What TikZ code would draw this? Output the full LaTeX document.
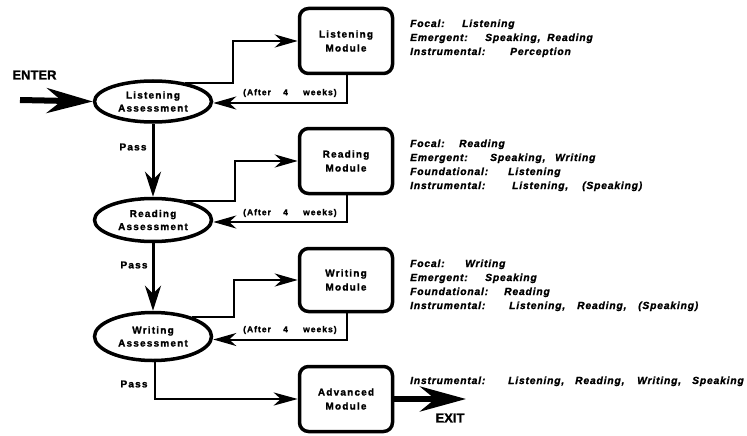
\documentclass[tikz,border=0pt]{standalone}
\usepackage{fontspec}
\setmainfont[BoldFeatures={FakeBold=1.2}]{Liberation Sans}
\newfontfamily\boxfont[LetterSpace=12,BoldFeatures={FakeBold=1.4}]{Liberation Sans}
\newfontfamily\sidefont[LetterSpace=8,BoldItalicFeatures={FakeBold=1.4}]{Liberation Sans}
\usetikzlibrary{shapes.geometric,arrows.meta}
\newcommand\tcol[2]{\makebox[#1][l]{#2}}
\begin{document}
\begin{tikzpicture}[x=1pt,y=-1pt,
  assess/.style={ellipse,draw,line width=3.5pt,minimum width=117pt,minimum height=41pt,inner sep=0pt,align=center,
    font=\boxfont\bfseries\fontsize{10}{13}\selectfont},
  module/.style={draw,rounded corners=9pt,line width=3.5pt,minimum width=93pt,minimum height=65pt,inner sep=0pt,align=center,
    font=\boxfont\bfseries\fontsize{10}{14}\selectfont},
  flow/.style={line width=2pt,-{Stealth[length=23pt,width=13pt,inset=7pt]}},
  passarrow/.style={line width=3pt,-{Stealth[length=25pt,width=16pt,inset=8pt]}},
  bigarrow/.style={line width=6pt,-{Stealth[length=46pt,width=25pt,inset=15pt]}},
  side/.style={anchor=base west,inner sep=0pt,font=\sidefont\bfseries\itshape\fontsize{10.3}{12}\selectfont},
  lbl/.style={inner sep=0pt,font=\boxfont\bfseries\fontsize{10}{12}\selectfont},
  small/.style={anchor=west,inner sep=0pt,font=\boxfont\bfseries\fontsize{8.5}{10}\selectfont},
  big/.style={inner sep=0pt,font=\bfseries\fontsize{13}{15}\selectfont}
]
\useasboundingbox (0,0) rectangle (747,436);

% assessments
\node[assess] (LA) at (153,101.5) {Listening\\Assessment};
\node[assess,minimum height=43pt] (RA) at (153,220) {Reading\\Assessment};
\node[assess,minimum height=48pt] (WA) at (153,336.5) {Writing\\Assessment};

% modules
\node[module] (LM) at (346,41) {Listening\\Module};
\node[module] (RM) at (346,161) {Reading\\Module};
\node[module,minimum height=63pt] (WM) at (346,280) {Writing\\Module};
\node[module] (AM) at (346,399) {Advanced\\Module};

% junctions
\coordinate (jL) at (233,41);
\coordinate (jR) at (235,161);
\coordinate (jW) at (234,280);

\draw[flow] (LA.30) -| (jL) -- (LM.west);
\draw[flow] (RA.30) -| (jR) -- (RM.west);
\draw[flow] (WA.27) -| (jW) -- (WM.west);

\draw[flow] ([xshift=1pt]LM.south) |- ([yshift=-1.5pt]LA.east);
\draw[flow] ([xshift=1pt]RM.south) |- ([yshift=-2pt]RA.east);
\draw[flow] ([xshift=1pt]WM.south) |- ([yshift=-3pt]WA.east);

\node[small] (aL) at (243,93) {\tcol{40pt}{(After}\tcol{20pt}{4}weeks)};
\node[small] (aR) at (243,213) {\tcol{40pt}{(After}\tcol{20pt}{4}weeks)};
\node[small] (aW) at (243,330) {\tcol{40pt}{(After}\tcol{20pt}{4}weeks)};

% pass
\draw[passarrow] (LA.south) -- (RA.north);
\draw[passarrow] (RA.south) -- (WA.north);
\draw[line width=2.5pt,-{Stealth[length=24pt,width=13pt,inset=7pt]}] ([xshift=2pt]WA.south) |- (AM.west);
\node[lbl] (p1) at (133,147) {Pass};
\node[lbl] (p2) at (134,265) {Pass};
\node[lbl] (p3) at (134,384) {Pass};

% enter / exit
\coordinate (enterstart) at (20,100);
\coordinate (exitend) at (466,399);
\draw[bigarrow] (enterstart) -- (LA.west);
\draw[bigarrow] (AM.east) -- (exitend);
\node[big] (enter) at (34.5,75) {ENTER};
\node[big] (exit) at (450,418) {EXIT};

% side texts
\node[side] (s11) at (410,27) {\tcol{52pt}{Focal:}Listening};
\node[side] (s12) at (410,41) {\tcol{75pt}{Emergent:}\tcol{62pt}{Speaking,}Reading};
\node[side] (s13) at (410,55) {\tcol{100pt}{Instrumental:}Perception};

\node[side] (s21) at (410,147) {\tcol{49pt}{Focal:}Reading};
\node[side] (s22) at (410,161) {\tcol{80pt}{Emergent:}\tcol{65pt}{Speaking,}Writing};
\node[side] (s23) at (410,175) {\tcol{98pt}{Foundational:}Listening};
\node[side] (s24) at (410,189) {\tcol{102pt}{Instrumental:}\tcol{70pt}{Listening,}(Speaking)};

\node[side] (s31) at (410,267) {\tcol{55pt}{Focal:}Writing};
\node[side] (s32) at (410,281) {\tcol{75pt}{Emergent:}Speaking};
\node[side] (s33) at (410,295) {\tcol{94pt}{Foundational:}Reading};
\node[side] (s34) at (410,309) {\tcol{99pt}{Instrumental:}\tcol{68pt}{Listening,}\tcol{61pt}{Reading,}(Speaking)};

\node[side] (s41) at (410,384) {\tcol{98pt}{Instrumental:}\tcol{67pt}{Listening,}\tcol{62pt}{Reading,}\tcol{55pt}{Writing,}Speaking};
\end{tikzpicture}
\end{document}
